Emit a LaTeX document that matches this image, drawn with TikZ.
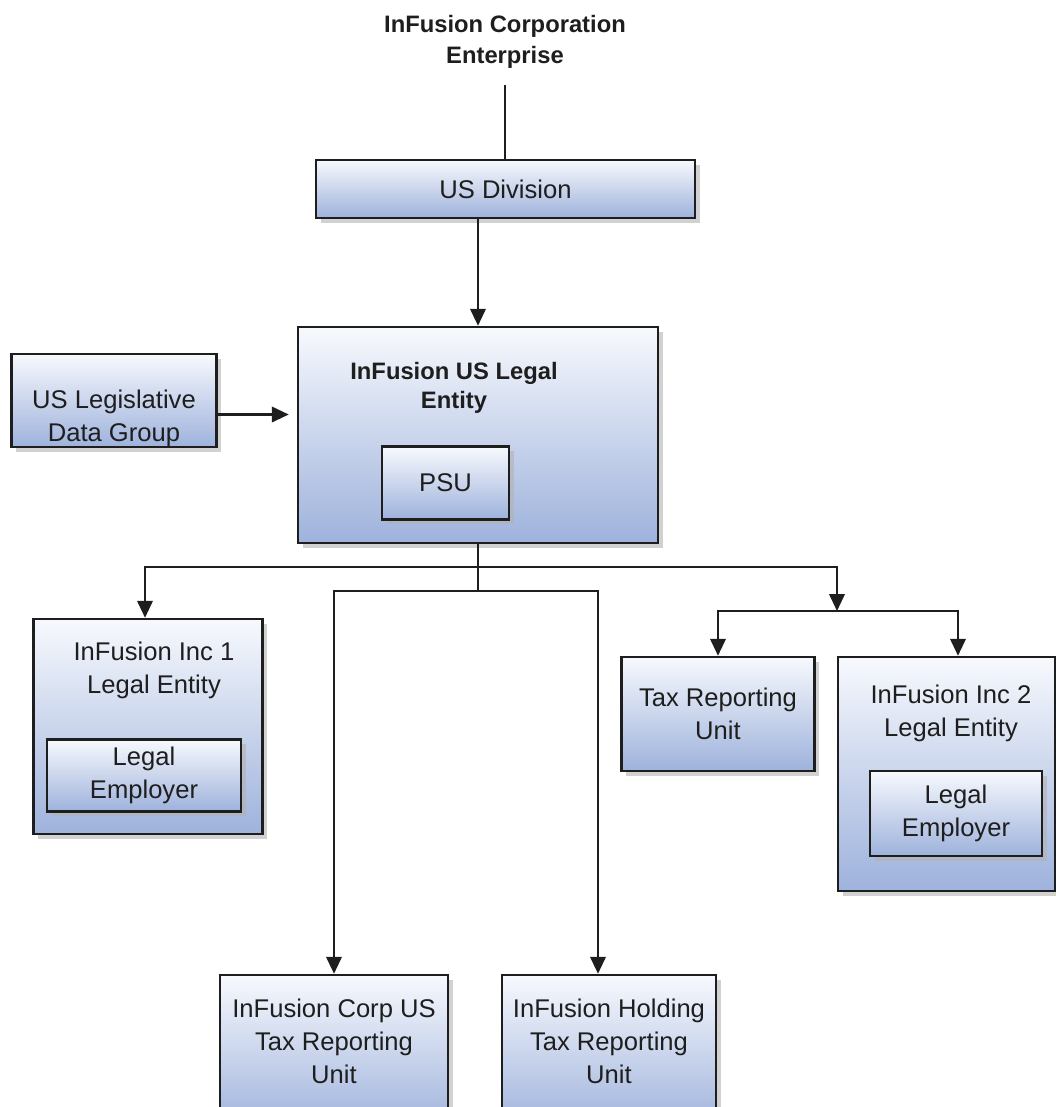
\documentclass[tikz,border=0pt]{standalone}
\usepackage{fontspec}
\setmainfont{Liberation Sans}
\usetikzlibrary{arrows.meta,shadows,calc}
\definecolor{boxtop}{RGB}{247,249,253}
\definecolor{boxbot}{RGB}{158,178,220}
\definecolor{ink}{RGB}{30,30,30}
\newcommand{\pxl}{0.025cm}
\begin{document}
\begin{tikzpicture}[
            x=0.025cm, y=-0.025cm,
            box/.style={rectangle, draw=ink, line width=1.8pt, top color=boxtop, bottom color=boxbot,
                drop shadow={shadow xshift=0.12cm, shadow yshift=-0.12cm, fill=black!30, opacity=0.6},
                inner sep=0pt, align=center, text=ink, font=\fontsize{18.2}{23.5}\selectfont},
            txt/.style={align=center, text=ink, inner sep=0pt, font=\fontsize{18.2}{23.5}\selectfont},
            head/.style={align=center, text=ink, inner sep=0pt, font=\fontsize{16.9}{22}\selectfont\bfseries},
            line/.style={draw=ink, line width=1.5pt},
            arr/.style={line, -{Triangle[length=12pt,width=11pt]}}
        ]
        \useasboundingbox (0,0) rectangle (1056,1107);
        \node[head] (title) at (505,42) {InFusion Corporation\\Enterprise};
        \node[box, minimum width=379*\pxl, minimum height=58*\pxl] (div) at (505.5,189) {US Division};
        \node[box, minimum width=360*\pxl, minimum height=216*\pxl] (le) at (478,435) {};
        \node[head, font=\fontsize{16.9}{20.3}\selectfont\bfseries] (leT) at (454,388) {InFusion US Legal\\Entity};
        \node[box, minimum width=127*\pxl, minimum height=73*\pxl] (psu) at (445.5,483) {PSU};
        \node[box, minimum width=205*\pxl, minimum height=93*\pxl] (ldg) at (114,400.5) {};
        \node[txt] (ldgT) at (114,418) {US Legislative\\Data Group};
        \node[box, minimum width=229*\pxl, minimum height=215*\pxl] (inc1) at (148,726.5) {};
        \node[txt] (inc1T) at (154,670.5) {InFusion Inc 1\\Legal Entity};
        \node[box, minimum width=194*\pxl, minimum height=72*\pxl] (le1) at (144,775.5) {Legal\\Employer};
        \node[box, minimum width=193*\pxl, minimum height=114*\pxl] (tru) at (718,714) {Tax Reporting\\Unit};
        \node[box, minimum width=217*\pxl, minimum height=234*\pxl] (inc2) at (946.5,774) {};
        \node[txt] (inc2T) at (951,713) {InFusion Inc 2\\Legal Entity};
        \node[box, minimum width=172*\pxl, minimum height=85*\pxl] (le2) at (956,813.5) {Legal\\Employer};
        \node[box, minimum width=228*\pxl, minimum height=155*\pxl] (corp) at (334,1052.5) {};
        \node[txt] (corpT) at (334,1041) {InFusion Corp US\\Tax Reporting\\Unit};
        \node[box, minimum width=214*\pxl, minimum height=155*\pxl] (hold) at (609,1052.5) {};
        \node[txt] (holdT) at (609,1041) {InFusion Holding\\Tax Reporting\\Unit};

        \coordinate (top) at (505,85);
        \coordinate (bus1) at (478,567);
        \coordinate (bus2) at (478,591);
        \coordinate (split) at (837,611);

        \draw[line] (top) -- (top |- div.north);
        \draw[arr] (le.north |- div.south) -- (le.north);
        \draw[arr] ($(ldg.east)+(0,14)$) -- ($(le.west |- ldg.east)+(-8,14)$);
        \draw[line] (le.south) -- (bus2);
        \draw[arr] (bus1) -| ($(inc1.north)+(-3,0)$);
        \draw[arr] (bus1) -| (split);
        \draw[arr] (bus2) -| (corp.north);
        \draw[arr] (bus2) -| ($(hold.north)+(-11,0)$);
        \draw[arr] (split) -| (tru.north);
        \draw[arr] (split) -| ($(inc2.north)+(11.5,0)$);
    \end{tikzpicture}
\end{document}
